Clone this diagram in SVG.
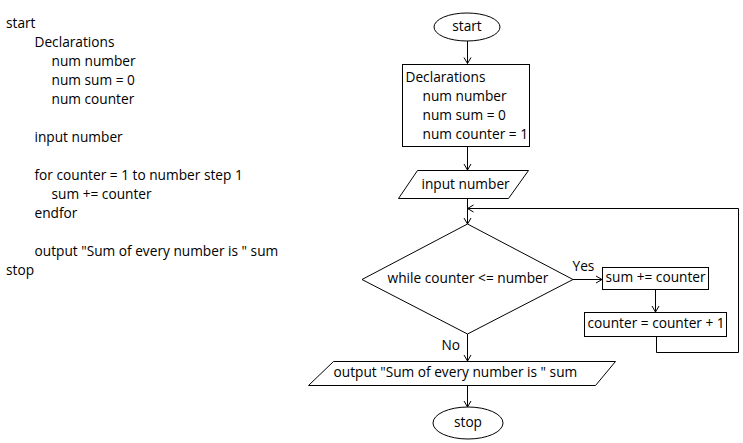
<svg xmlns="http://www.w3.org/2000/svg" width="743" height="443" viewBox="0 0 743 443">
<style>
text{font-family:"Open Sans","Noto Sans","Liberation Sans",sans-serif;font-size:13.7px;fill:#000}
.s{fill:#fff;stroke:#000;stroke-width:1}
.c{fill:none;stroke:#000;stroke-width:1}
.m{text-anchor:middle}
</style>
<defs>
<marker id="a" markerUnits="userSpaceOnUse" markerWidth="12" markerHeight="12" refX="7" refY="6" orient="auto">
<path d="M1,2.5 L7,6 L1,9.5" fill="none" stroke="#000" stroke-width="1"/>
</marker>
</defs>
<rect width="743" height="443" fill="#fff"/>
<g id="pseudocode">
<text x="6" y="27.5">start</text>
<text x="34.5" y="46.5">Declarations</text>
<text x="51.5" y="65.5">num number</text>
<text x="51.5" y="84.5">num sum = 0</text>
<text x="51.5" y="103.5">num counter</text>
<text x="34.5" y="141.5">input number</text>
<text x="34.5" y="179.5">for counter = 1 to number step 1</text>
<text x="51.5" y="198.5">sum += counter</text>
<text x="34.5" y="217.5">endfor</text>
<text x="34.5" y="255.5">output "Sum of every number is " sum</text>
<text x="6" y="274.5">stop</text>
</g>
<g id="connectors">
<path class="c" d="M467.5,41 V63.5" marker-end="url(#a)"/>
<path class="c" d="M467.5,147 V170" marker-end="url(#a)"/>
<path class="c" d="M467.5,198 V224" marker-end="url(#a)"/>
<path class="c" d="M573,279.5 H602" marker-end="url(#a)"/>
<path class="c" d="M655.5,289 V312" marker-end="url(#a)"/>
<path class="c" d="M656.5,336 V352.5 H738.5 V208.5 H467.5" marker-end="url(#a)"/>
<path class="c" d="M467.5,334 V361" marker-end="url(#a)"/>
<path class="c" d="M467.5,385 V407" marker-end="url(#a)"/>
<text x="572.5" y="271">Yes</text>
<text x="441.5" y="349.5">No</text>
</g>
<g id="start">
<ellipse class="s" cx="467" cy="27" rx="33" ry="14"/>
<text class="m" x="467" y="31">start</text>
</g>
<g id="declarations">
<rect class="s" x="402.5" y="64.5" width="127" height="82"/>
<text x="405.5" y="82">Declarations</text>
<text x="422.5" y="101">num number</text>
<text x="422.5" y="120">num sum = 0</text>
<text x="422.5" y="139">num counter = 1</text>
</g>
<g id="input">
<polygon class="s" points="417.5,170.5 528.5,170.5 508.5,198.5 398.5,198.5"/>
<text x="421.5" y="188.5">input number</text>
</g>
<g id="decision">
<polygon class="s" points="467.5,224 573,279.5 467.5,334 362,279.5"/>
<text class="m" x="468" y="283">while counter &lt;= number</text>
</g>
<g id="sum">
<rect class="s" x="602.5" y="267.5" width="106" height="22"/>
<text x="605.5" y="282">sum += counter</text>
</g>
<g id="counter">
<rect class="s" x="584.5" y="312.5" width="142" height="24"/>
<text x="587.5" y="328">counter = counter + 1</text>
</g>
<g id="output">
<polygon class="s" points="333.5,361.5 615.5,361.5 595.5,385.5 308.5,385.5"/>
<text x="333.5" y="376.5">output "Sum of every number is " sum</text>
</g>
<g id="stop">
<ellipse class="s" cx="468" cy="423" rx="35" ry="16"/>
<text class="m" x="468" y="426.5">stop</text>
</g>
</svg>
